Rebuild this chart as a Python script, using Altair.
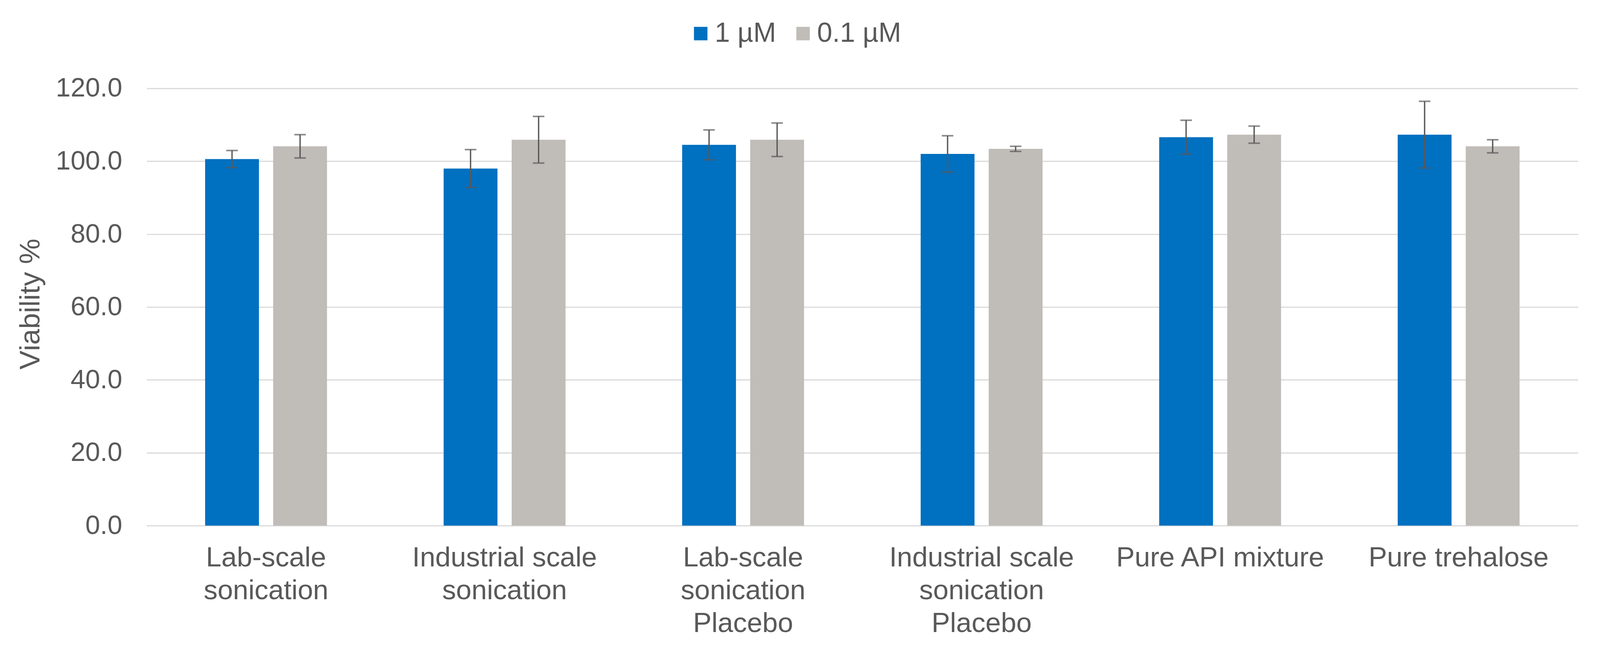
import json
import altair as alt
import pandas as pd

# ---- data ----
categories = [
    "Lab-scale sonication",
    "Industrial scale sonication",
    "Lab-scale sonication Placebo",
    "Industrial scale sonication Placebo",
    "Pure API mixture",
    "Pure trehalose",
]
label_lines = [
    ["Lab-scale", "sonication"],
    ["Industrial scale", "sonication"],
    ["Lab-scale", "sonication", "Placebo"],
    ["Industrial scale", "sonication", "Placebo"],
    ["Pure API mixture"],
    ["Pure trehalose"],
]
series = ["1 µM", "0.1 µM"]
vals_1uM = [100.6, 98.0, 104.5, 102.0, 106.6, 107.3]
err_1uM = [2.35, 5.2, 4.1, 5.0, 4.65, 9.15]
vals_01uM = [104.1, 105.9, 105.9, 103.4, 107.3, 104.1]
err_01uM = [3.2, 6.4, 4.6, 0.7, 2.35, 1.8]
y_ticks = [0, 20, 40, 60, 80, 100, 120]
colors = ["#0070C0", "#C0BCB8"]

rows = []
for i, c in enumerate(categories):
    for s, v, e in ((series[0], vals_1uM[i], err_1uM[i]), (series[1], vals_01uM[i], err_01uM[i])):
        rows.append({"category": c, "series": s, "value": v, "lo": v - e, "hi": v + e})
df = pd.DataFrame(rows)

label_expr = ""
for c, lines in zip(categories, label_lines):
    label_expr += f"datum.value === '{c}' ? {json.dumps(lines)} : "
label_expr += "datum.value"

TEXT = "#595959"

x_enc = alt.X(
    "category:N",
    sort=categories,
    scale=alt.Scale(paddingInner=0.489, paddingOuter=0.245),
    axis=alt.Axis(
        title=None,
        labelAngle=0,
        labelExpr=label_expr,
        labelFontSize=72,
        labelLineHeight=85,
        labelPadding=49,
        labelBaseline="top",
        labelColor=TEXT,
        ticks=False,
        domain=False,
        grid=False,
        labelLimit=1000,
    ),
)
xo_enc = alt.XOffset(
    "series:N",
    sort=series,
    scale=alt.Scale(domain=series, paddingInner=0.209, paddingOuter=0),
)

base = alt.Chart(df)

bars = base.mark_bar().encode(
    x=x_enc,
    xOffset=xo_enc,
    y=alt.Y(
        "value:Q",
        scale=alt.Scale(domain=[0, 120], nice=False),
        axis=alt.Axis(
            values=y_ticks,
            format=".1f",
            title="Viability %",
            titleFontSize=74,
            titleFontWeight="normal",
            titleColor=TEXT,
            titleAngle=270,
            titleX=-301,
            titleY=560,
            titleAlign="center",
            titleBaseline="middle",
            labelFontSize=69,
            labelColor=TEXT,
            labelPadding=64,
            ticks=False,
            domain=False,
            grid=True,
            gridColor="#D9D9D9",
            gridWidth=3,
        ),
    ),
    color=alt.Color(
        "series:N",
        sort=series,
        scale=alt.Scale(domain=series, range=colors),
        legend=alt.Legend(
            title=None,
            orient="none",
            legendX=1404,
            legendY=-178,
            direction="horizontal",
            symbolType="square",
            symbolSize=1225,
            symbolStrokeWidth=0,
            labelFontSize=71,
            labelColor=TEXT,
            labelOffset=1,
            labelLimit=1000,
            columnPadding=34,
        ),
    ),
)

rule = base.mark_rule(color="#595959", strokeWidth=3.5).encode(
    x=x_enc, xOffset=xo_enc, y="lo:Q", y2="hi:Q"
)
cap_lo = base.mark_tick(color="#595959", thickness=4, size=30).encode(
    x=x_enc, xOffset=xo_enc, y="lo:Q"
)
cap_hi = base.mark_tick(color="#595959", thickness=4, size=30).encode(
    x=x_enc, xOffset=xo_enc, y="hi:Q"
)

chart = (
    alt.layer(bars, rule, cap_lo, cap_hi)
    .properties(
        width=3719,
        height=1136,
        autosize=alt.AutoSizeParams(type="none"),
        padding={"left": 373, "top": 209, "right": 49, "bottom": 326},
        background="white",
        view=alt.ViewBackground(strokeWidth=0, strokeOpacity=0),
    )
    .configure_view(strokeWidth=0, stroke="transparent", strokeOpacity=0)
    .configure_axis(domain=False)
    .configure(font="Liberation Sans")
)

chart.save("out.html", embed_options={"renderer": "svg", "actions": False})
